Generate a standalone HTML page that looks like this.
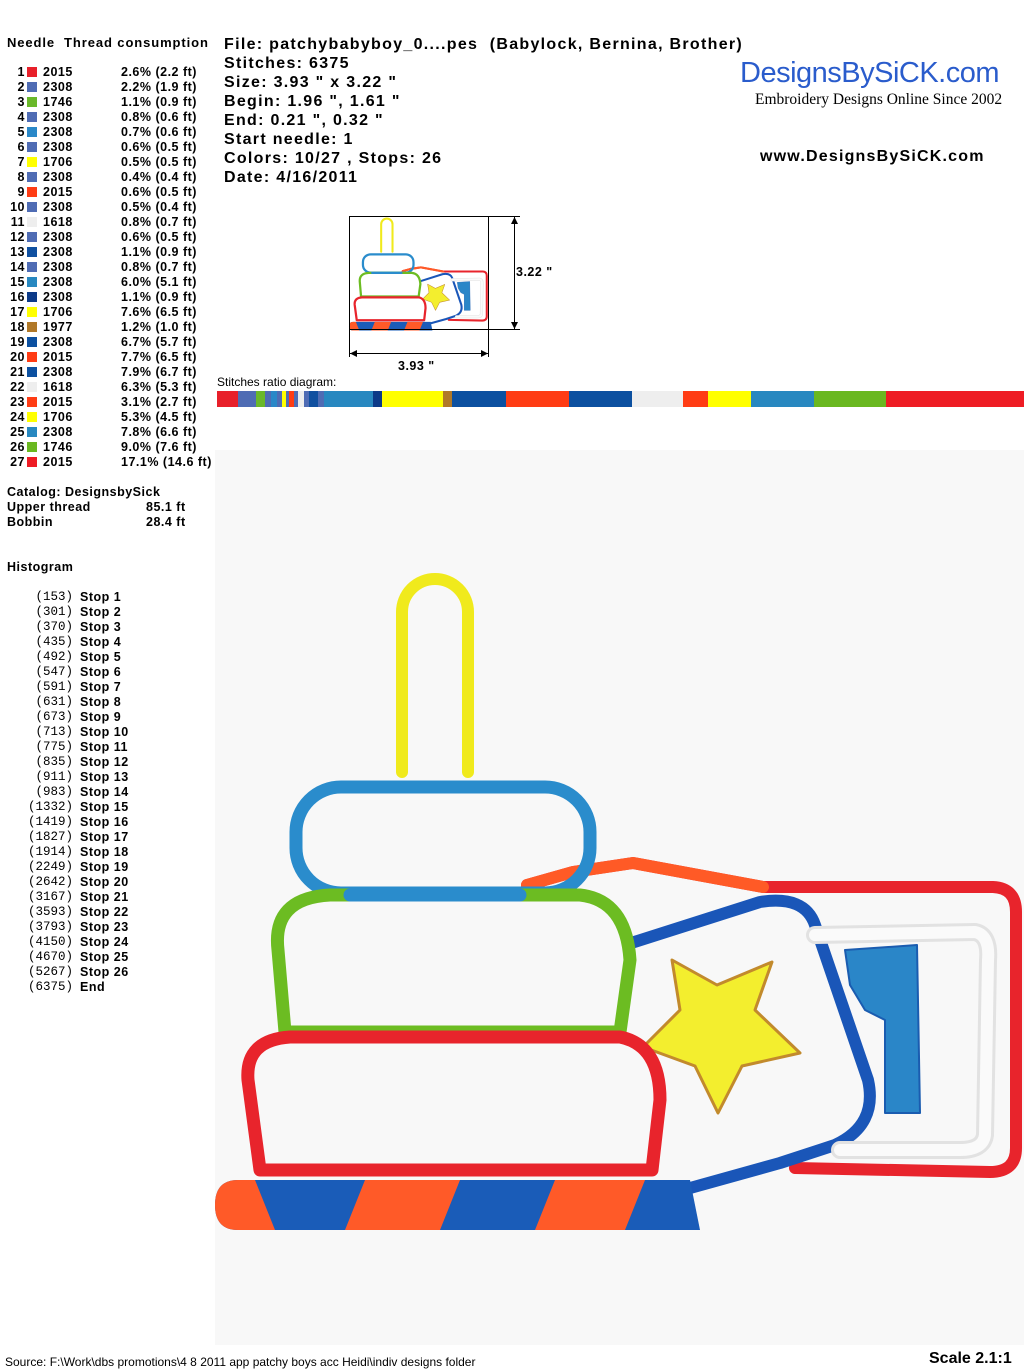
<!DOCTYPE html>
<html><head><meta charset="utf-8"><style>
*{margin:0;padding:0}
body{width:1024px;height:1370px;position:relative;background:#fff;font-family:"Liberation Sans",Arial,sans-serif;overflow:hidden;color:#000}
.a{position:absolute;white-space:nowrap}
.b{font-weight:bold;font-size:12.5px;letter-spacing:0.5px}
.h{font-weight:bold;font-size:16px;letter-spacing:1.3px}
.sw{position:absolute;width:10px;height:10px}
.m{font-family:"Liberation Mono",monospace;font-size:12.5px}
</style></head><body>
<div style="position:absolute;left:215px;top:450px;width:809px;height:895px;background:#f8f8f8"></div>
<div class="a b" style="left:7px;top:35px;font-size:13px;letter-spacing:0.9px">Needle&nbsp;&nbsp;Thread consumption</div>
<div id="rows"></div>
<div class="a b" style="left:7px;top:485px">Catalog: DesignsbySick</div>
<div class="a b" style="left:7px;top:500px">Upper thread</div><div class="a b" style="left:146px;top:500px">85.1 ft</div>
<div class="a b" style="left:7px;top:515px">Bobbin</div><div class="a b" style="left:146px;top:515px">28.4 ft</div>
<div class="a b" style="left:7px;top:560px">Histogram</div>
<div id="hist"></div>
<div class="a h" style="left:224px;top:36px">File: patchybabyboy_0....pes&nbsp; (Babylock, Bernina, Brother)</div>
<div class="a h" style="left:224px;top:55px">Stitches: 6375</div>
<div class="a h" style="left:224px;top:74px">Size: 3.93 " x 3.22 "</div>
<div class="a h" style="left:224px;top:93px">Begin: 1.96 ", 1.61 "</div>
<div class="a h" style="left:224px;top:112px">End: 0.21 ", 0.32 "</div>
<div class="a h" style="left:224px;top:131px">Start needle: 1</div>
<div class="a h" style="left:224px;top:150px">Colors: 10/27 , Stops: 26</div>
<div class="a h" style="left:224px;top:169px">Date: 4/16/2011</div>
<div class="a" style="left:740px;top:57px;font-size:29px;color:#2a5ccc;letter-spacing:-0.5px">DesignsBySiCK.com</div>
<div class="a" style="left:755px;top:91px;font-size:15.5px;font-family:'Liberation Serif',serif">Embroidery Designs Online Since 2002</div>
<div class="a h" style="left:760px;top:148px;letter-spacing:1.2px">www.DesignsBySiCK.com</div>
<div class="a" style="left:217px;top:375px;font-size:12px">Stitches ratio diagram:</div>
<div id="bar" style="position:absolute;left:217px;top:391px;width:807px;height:16px;display:flex"></div>
<div class="a b" style="left:516px;top:265px">3.22 "</div>
<div class="a b" style="left:398px;top:359px">3.93 "</div>
<div class="a" style="left:5px;top:1355px;font-size:12px">Source: F:\Work\dbs promotions\4 8 2011 app patchy boys acc Heidi\indiv designs folder</div>
<div class="a" style="left:929px;top:1350px;font-size:16px;font-weight:bold">Scale 2.1:1</div>
<svg width="1024" height="1370" style="position:absolute;left:0;top:0">
<defs>
<g id="art" fill="none" stroke-linejoin="round" stroke-linecap="round">
<path d="M402 772 L402 612 A33 33 0 0 1 468 612 L468 772" stroke="#f0ea1c" stroke-width="12"/>
<path d="M527 885 L573 872 L633 863 L763 887 L993 887 Q1016 888 1016 912 L1016 1148 Q1016 1172 990 1172 L795 1168" stroke="#e8242c" stroke-width="12"/>
<path d="M527 885 L573 872 L633 863 L763 887" stroke="#ff5a26" stroke-width="12"/>
<path d="M628 944 L760 902 Q805 895 815 925 L868 1080 Q878 1125 835 1145 L780 1163 L665 1195" stroke="#1a56b8" stroke-width="12"/>
<path d="M815 935 L975 932 Q990 935 988 960 L985 1135 Q983 1150 960 1150 L840 1150" stroke="#e2e2e2" stroke-width="18"/>
<path d="M815 935 L975 932 Q990 935 988 960 L985 1135 Q983 1150 960 1150 L840 1150" stroke="#fafafa" stroke-width="12"/>
<polygon points="845,950 917,945 920,1113 885,1113 885,1020 865,1010 850,985" fill="#2a86c8" stroke="#1a5cb0" stroke-width="2"/>
<polygon points="672,960 717,985 772,962 755,1010 800,1053 742,1066 718,1113 695,1066 643,1047 680,1010" fill="#f3ee2e" stroke="#c28a2c" stroke-width="3"/>
<rect x="296" y="787" width="294" height="106" rx="45" stroke="#2a8ccc" stroke-width="13"/>
<path d="M285 1032 L278 950 Q272 898 330 895 L580 895 Q626 900 630 960 L620 1032 Z" stroke="#6cbc22" stroke-width="13"/>
<path d="M350 895 L520 895" stroke="#2a8ccc" stroke-width="13"/>
<path d="M260 1170 L248 1080 Q245 1040 290 1037 L620 1037 Q660 1045 660 1100 L652 1170 Z" stroke="#e8242c" stroke-width="13"/>
<path d="M238 1180 L690 1180 L700 1230 L238 1230 Q215 1230 215 1205 Q215 1180 238 1180 Z" fill="#1a5cb8"/>
<path d="M238 1180 L255 1180 L275 1230 L238 1230 Q215 1230 215 1205 Q215 1180 238 1180 Z" fill="#ff5a28"/>
<polygon points="345,1230 365,1180 460,1180 440,1230" fill="#ff5a28"/>
<polygon points="535,1230 555,1180 645,1180 625,1230" fill="#ff5a28"/>
</g>
</defs>
<use href="#art"/>
<g transform="translate(349,217) scale(0.172) translate(-215,-570)"><use href="#art"/></g>
<rect x="349.5" y="216.5" width="139" height="113" fill="none" stroke="#000"/>
<g stroke="#000" fill="none">
<line x1="488" y1="216.5" x2="520" y2="216.5"/><line x1="488" y1="329.5" x2="520" y2="329.5"/>
<line x1="514.5" y1="217" x2="514.5" y2="329"/>
<line x1="349.5" y1="330" x2="349.5" y2="357"/><line x1="488.5" y1="330" x2="488.5" y2="357"/>
<line x1="350" y1="353.5" x2="488" y2="353.5"/>
</g>
<g fill="#000"><polygon points="514.5,217 511,224 518,224"/><polygon points="514.5,329 511,322 518,322"/>
<polygon points="350,353.5 357,350 357,357"/><polygon points="488,353.5 481,350 481,357"/></g>
</svg>
<script>
var d=[[1,"#e8202a",2015,"2.6% (2.2 ft)"],[2,"#4f6cb4",2308,"2.2% (1.9 ft)"],[3,"#6ab82a",1746,"1.1% (0.9 ft)"],[4,"#4f6cb4",2308,"0.8% (0.6 ft)"],[5,"#2a88c8",2308,"0.7% (0.6 ft)"],[6,"#4f6cb4",2308,"0.6% (0.5 ft)"],[7,"#ffff00",1706,"0.5% (0.5 ft)"],[8,"#4f6cb4",2308,"0.4% (0.4 ft)"],[9,"#ff3c14",2015,"0.6% (0.5 ft)"],[10,"#4f6cb4",2308,"0.5% (0.4 ft)"],[11,"#eeeeee",1618,"0.8% (0.7 ft)"],[12,"#4f6cb4",2308,"0.6% (0.5 ft)"],[13,"#1050a0",2308,"1.1% (0.9 ft)"],[14,"#4f6cb4",2308,"0.8% (0.7 ft)"],[15,"#2888c0",2308,"6.0% (5.1 ft)"],[16,"#0c3a88",2308,"1.1% (0.9 ft)"],[17,"#ffff00",1706,"7.6% (6.5 ft)"],[18,"#b07828",1977,"1.2% (1.0 ft)"],[19,"#0c50a0",2308,"6.7% (5.7 ft)"],[20,"#ff3c14",2015,"7.7% (6.5 ft)"],[21,"#0c50a0",2308,"7.9% (6.7 ft)"],[22,"#eeeeee",1618,"6.3% (5.3 ft)"],[23,"#ff3c14",2015,"3.1% (2.7 ft)"],[24,"#ffff00",1706,"5.3% (4.5 ft)"],[25,"#2888c0",2308,"7.8% (6.6 ft)"],[26,"#6ab820",1746,"9.0% (7.6 ft)"],[27,"#ee1c24",2015,"17.1% (14.6 ft)"]];
var r="",b="";
d.forEach(function(x,i){var y=65+i*15;
r+='<div class="a b" style="left:0;width:25px;text-align:right;top:'+y+'px">'+x[0]+'</div><div class="sw" style="left:27px;top:'+(y+2)+'px;background:'+x[1]+'"></div><div class="a b" style="left:43px;top:'+y+'px">'+x[2]+'</div><div class="a b" style="left:121px;top:'+y+'px">'+x[3]+'</div>';
b+='<div style="flex:'+parseFloat(x[3])+' 0 0;background:'+x[1]+'"></div>';});
document.getElementById("rows").innerHTML=r;document.getElementById("bar").innerHTML=b;
var h=[153,301,370,435,492,547,591,631,673,713,775,835,911,983,1332,1419,1827,1914,2249,2642,3167,3593,3793,4150,4670,5267,6375],s="";
h.forEach(function(v,i){var y=590+i*15;var t="("+v+")";
s+='<div class="a m" style="left:'+(73-t.length*7.5)+'px;top:'+y+'px">'+t+'</div><div class="a b" style="left:80px;top:'+y+'px">'+(i<26?"Stop "+(i+1):"End")+'</div>';});
document.getElementById("hist").innerHTML=s;
</script>
</body></html>
